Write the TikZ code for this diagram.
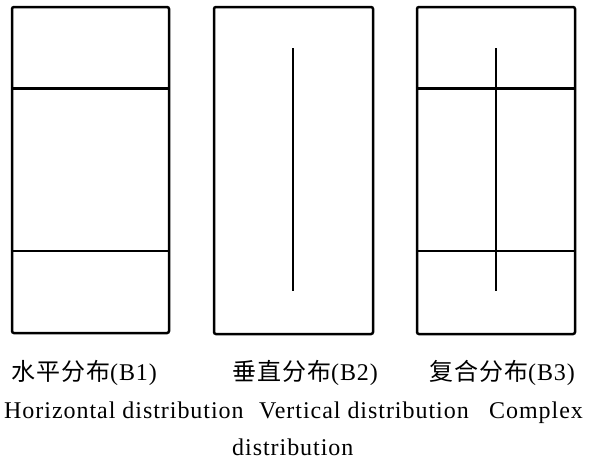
\documentclass[tikz,border=0pt]{standalone}
\usepackage{fontspec}
\setmainfont{Liberation Serif}[LetterSpace=4]
\newfontfamily\cjkfont{Noto Sans CJK SC}[LetterSpace=4]
\usetikzlibrary{calc}
\begin{document}
\begin{tikzpicture}[x=1pt,y=-1pt,
  panel/.style={draw, line width=2.5pt, rounded corners=2pt, inner sep=0pt},
  divider/.style={line width=2.5pt},
  lbl/.style={anchor=base west, inner sep=0pt, font=\fontsize{24}{27}\selectfont}]
\useasboundingbox (0,0) rectangle (589,461);

% three panels
\node[panel, minimum width=157pt, minimum height=326pt] (p1) at (90.5,170) {};
\node[panel, minimum width=159pt, minimum height=327pt] (p2) at (293.5,170.5) {};
\node[panel, minimum width=158pt, minimum height=327pt] (p3) at (496,170.5) {};

% levels of the dividers
\coordinate (ha) at (0,88.5);
\coordinate (hb) at (0,251);
\coordinate (v2t) at (293,48);
\coordinate (v2b) at (293,291);
\coordinate (v3t) at (496,48);
\coordinate (v3b) at (496,291);

% horizontal distribution
\draw[divider] (p1.west |- ha) -- (p1.east |- ha);
\draw[divider] (p1.west |- hb) -- (p1.east |- hb);
% vertical distribution
\draw[divider] (v2t) -- (v2b);
% complex distribution
\draw[divider] (p3.west |- ha) -- (p3.east |- ha);
\draw[divider] (p3.west |- hb) -- (p3.east |- hb);
\draw[divider] (v3t) -- (v3b);

% captions
\node[lbl] (c1) at (11,380) {{\cjkfont 水平分布}(B1)};
\node[lbl] (c2) at (232,380) {{\cjkfont 垂直分布}(B2)};
\node[lbl] (c3) at (429,380) {{\cjkfont 复合分布}(B3)};
\node[lbl] (e1) at (4,418) {Horizontal distribution};
\node[lbl] (e2) at (259,418) {Vertical distribution};
\node[lbl] (e3) at (489,418) {Complex};
\node[lbl] (e4) at (232,455) {distribution};
\end{tikzpicture}
\end{document}
